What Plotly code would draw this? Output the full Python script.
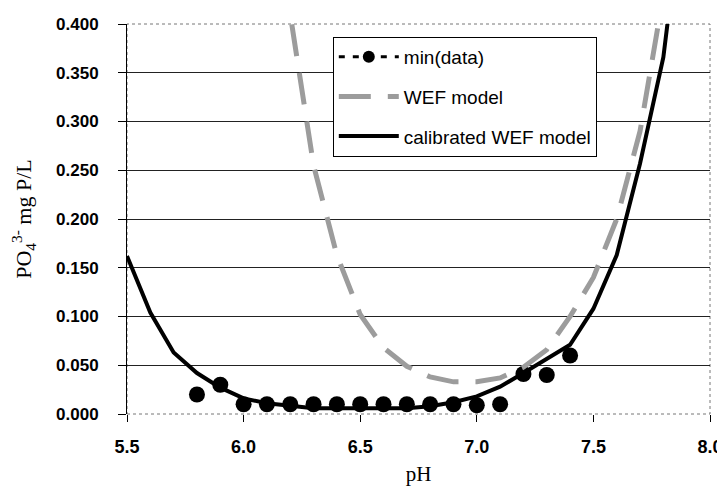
import plotly.graph_objects as go

# --- data ---
ph_data = [5.8, 5.9, 6.0, 6.1, 6.2, 6.3, 6.4, 6.5, 6.6, 6.7, 6.8, 6.9, 7.0, 7.1, 7.2, 7.3, 7.4]
min_data = [0.020, 0.030, 0.010, 0.010, 0.010, 0.010, 0.010, 0.010, 0.010, 0.010, 0.010, 0.010,
            0.009, 0.010, 0.041, 0.040, 0.060]

ph_wef = [6.1, 6.2, 6.3, 6.4, 6.5, 6.6, 6.7, 6.8, 6.9, 7.0, 7.1, 7.2, 7.3, 7.4, 7.5, 7.6, 7.7, 7.8]
wef_model = [0.700, 0.410, 0.255, 0.163, 0.102, 0.068, 0.049, 0.038, 0.033, 0.033, 0.037, 0.048,
             0.066, 0.100, 0.140, 0.200, 0.290, 0.430]

ph_cal = [5.5, 5.6, 5.7, 5.8, 5.9, 6.0, 6.1, 6.2, 6.3, 6.4, 6.5, 6.6, 6.7, 6.8, 6.9, 7.0, 7.1,
          7.2, 7.3, 7.4, 7.5, 7.6, 7.7, 7.8, 7.9]
cal_model = [0.162, 0.104, 0.063, 0.042, 0.027, 0.016, 0.011, 0.008, 0.006, 0.006, 0.006, 0.006,
             0.006, 0.008, 0.012, 0.018, 0.028, 0.042, 0.056, 0.071, 0.108, 0.163, 0.257, 0.366, 0.560]

x_ticks = [5.5, 6.0, 6.5, 7.0, 7.5, 8.0]
y_ticks = [0.0, 0.05, 0.1, 0.15, 0.2, 0.25, 0.3, 0.35, 0.4]

SANS = "Liberation Sans, Arial, sans-serif"
SERIF = "Liberation Serif, Times New Roman, serif"

fig = go.Figure()

# data markers (plot)
fig.add_trace(go.Scatter(x=ph_data, y=min_data, mode="markers", name="min(data)",
                         marker=dict(color="black", size=16), showlegend=False,
                         legendgroup="a"))
# legend proxy for min(data)
fig.add_trace(go.Scatter(x=[None], y=[None], mode="lines+markers", name="min(data)",
                         line=dict(color="black", width=3, dash="6px,8px"),
                         marker=dict(color="black", size=12), legendgroup="a"))
fig.add_trace(go.Scatter(x=ph_wef, y=wef_model, mode="lines", name="WEF model",
                         line=dict(color="#9c9c9c", width=5, dash="32px,17px"),
                         legendgroup="b"))
fig.add_trace(go.Scatter(x=ph_cal, y=cal_model, mode="lines", name="calibrated WEF model",
                         line=dict(color="black", width=4), legendgroup="c"))

# the page body has an 8px default margin, so the figure is sized to fit the window
fig.update_layout(
    width=717, height=486,
    margin=dict(l=119, r=15, t=16, b=80),
    paper_bgcolor="white", plot_bgcolor="white",
    font=dict(family=SANS, color="black"),
    legend=dict(x=0.353, y=0.967, xanchor="left", yanchor="top",
                bgcolor="white", bordercolor="black", borderwidth=1,
                font=dict(family=SANS, size=19, color="black"),
                traceorder="grouped", tracegroupgap=12, itemwidth=60),
    shapes=[dict(type="rect", xref="paper", yref="paper", x0=0, y0=0, x1=1, y1=1,
                 line=dict(color="#777", width=1, dash="dot"), layer="below")],
)

fig.update_xaxes(range=[5.5, 8.0], tickvals=x_ticks, ticktext=[f"{v:.1f}" for v in x_ticks],
                 showgrid=False, zeroline=False, showline=False, automargin=False,
                 ticks="outside", ticklen=7, tickcolor="black", ticklabelstandoff=9,
                 tickfont=dict(family=SANS, size=18, weight="bold"),
                 title=dict(text="pH", font=dict(family=SERIF, size=21), standoff=10))
fig.update_yaxes(range=[0, 0.4], tickvals=y_ticks, ticktext=[f"{v:.3f}" for v in y_ticks],
                 showgrid=True, gridcolor="#222", gridwidth=1, zeroline=False,
                 showline=True, linecolor="black", linewidth=1, automargin=False,
                 ticks="outside", ticklen=8, tickcolor="black", ticklabelstandoff=16,
                 tickfont=dict(family=SANS, size=17, weight="bold"),
                 title=dict(text="PO<sub>4</sub><sup>3-</sup> mg P/L",
                            font=dict(family=SERIF, size=22), standoff=24))

fig.write_html("out.html")
